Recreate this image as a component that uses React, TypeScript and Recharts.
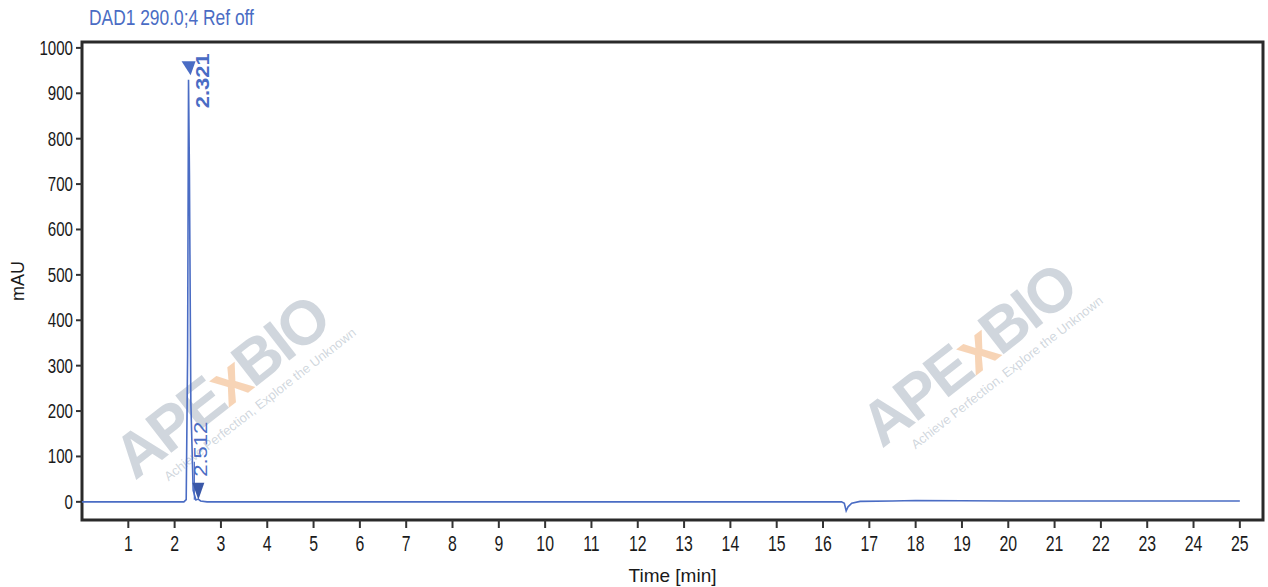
import React from "react";
import { LineChart, Line, XAxis, YAxis, ReferenceArea, ReferenceDot } from "recharts";

// chromatogram trace, DAD1 290 nm
const timeMin = [0, 0.5, 2.2, 2.25, 2.28, 2.3, 2.32, 2.35, 2.4, 2.46, 2.51, 2.56, 2.7, 5, 9, 12, 16.4, 16.46, 16.5, 16.54, 16.62, 16.8, 17.5, 18, 20, 25];
const mAU = [0, 0, 0, 5, 320, 930, 720, 220, 25, 4, 6, 2, 0, 0, 0, 0, 0, -3, -20, -11, -3, 1, 2, 3, 2, 2];

const xTicks = [1, 2, 3, 4, 5, 6, 7, 8, 9, 10, 11, 12, 13, 14, 15, 16, 17, 18, 19, 20, 21, 22, 23, 24, 25];
const yTicks = [0, 100, 200, 300, 400, 500, 600, 700, 800, 900, 1000];

const peaks = [
  { rt: 2.321, label: "2.321" },
  { rt: 2.512, label: "2.512" },
];

const data = timeMin.map((t, i) => ({ t, v: mAU[i] }));

const FONT = "'Liberation Sans', Arial, sans-serif";
const BLUE = "#4a6cc4";
const INK = "#1a1a1a";

// narrow, tall glyphs like the instrument software export
function XTick(p: any) {
  const { x, y, payload } = p;
  return (
    <text transform={`translate(${x},${y + 21}) scale(0.72,1)`} textAnchor="middle" fontSize={22} fill={INK} fontFamily={FONT}>
      {payload.value}
    </text>
  );
}

function YTick(p: any) {
  const { x, y, payload } = p;
  return (
    <text transform={`translate(${x - 1},${y + 7}) scale(0.72,1)`} textAnchor="end" fontSize={21} fill={INK} fontFamily={FONT}>
      {payload.value}
    </text>
  );
}

function Watermark({ left, top }: { left: number; top: number }) {
  return (
    <div
      style={{
        position: "absolute",
        left,
        top,
        transform: "rotate(-38deg)",
        transformOrigin: "left top",
        pointerEvents: "none",
        fontFamily: FONT,
        color: "rgba(150,165,180,0.45)",
        lineHeight: 1,
        whiteSpace: "nowrap",
      }}
    >
      <div style={{ fontSize: 62, fontWeight: 700, letterSpacing: -3 }}>
        APE<span style={{ color: "rgba(240,170,110,0.5)" }}>x</span>BIO
      </div>
      <div style={{ fontSize: 13, marginLeft: 26, marginTop: 0 }}>Achieve Perfection, Explore the Unknown</div>
    </div>
  );
}

// triangle + rotated label at apex
const apexShape = (label: string) => (p: any) => {
  const { cx, cy } = p;
  const tx = cx + 14;
  const ty = cy + 40;
  return (
    <g>
      <polygon points={`${cx - 7},${cy - 7} ${cx + 7},${cy - 7} ${cx + 2},${cy + 7}`} fill={BLUE} />
      <text
        transform={`translate(${tx},${ty}) rotate(-90) scale(1,0.8)`}
        fontSize={22}
        fontWeight={700}
        fill={BLUE}
        fontFamily={FONT}
        dominantBaseline="central"
      >
        {label}
      </text>
    </g>
  );
};

// small peak: label + down arrow to baseline
const arrowShape = (label: string) => (p: any) => {
  const { cx, cy } = p;
  const tx = cx + 2;
  const ty = cy - 25;
  return (
    <g>
      <line x1={cx - 4} y1={cy - 40} x2={cx - 4} y2={cy - 2} stroke={BLUE} strokeWidth={1.2} />
      <polygon points={`${cx - 6},${cy - 19} ${cx + 6},${cy - 19} ${cx},${cy - 2}`} fill="#3a58a8" />
      <text
        transform={`translate(${tx},${ty}) rotate(-90) scale(1,0.8)`}
        fontSize={22}
        fill={BLUE}
        fontFamily={FONT}
        dominantBaseline="central"
      >
        {label}
      </text>
    </g>
  );
};

export default function App() {
  return (
    <div style={{ position: "absolute", left: 0, top: 0, width: 1268, height: 587, background: "#fff", overflow: "hidden" }}>
      <div
        style={{
          position: "absolute",
          left: 89,
          top: 5,
          fontFamily: FONT,
          fontSize: 22,
          color: BLUE,
          transform: "scaleX(0.79)",
          transformOrigin: "left top",
          whiteSpace: "nowrap",
        }}
      >
        DAD1 290.0;4 Ref off
      </div>
      <Watermark left={103} top={440} />
      <Watermark left={850} top={408} />
      <LineChart
        width={1268}
        height={587}
        data={data}
        margin={{ top: 42, right: 5, bottom: 37, left: 10 }}
        style={{ position: "absolute", left: 0, top: 0 }}
      >
        <XAxis
          dataKey="t"
          type="number"
          domain={[0, 25.5]}
          ticks={xTicks}
          interval={0}
          tick={<XTick />}
          tickLine={{ stroke: "#333", strokeWidth: 2 }}
          tickSize={8}
          axisLine={false}
          height={30}
          label={{ value: "Time [min]", position: "insideBottom", offset: -32, style: { fontSize: 19, fill: INK, fontFamily: FONT } }}
        />
        <YAxis
          type="number"
          domain={[-40, 1013]}
          ticks={yTicks}
          interval={0}
          tick={<YTick />}
          tickLine={{ stroke: "#333", strokeWidth: 2 }}
          tickSize={6}
          axisLine={false}
          width={72}
          allowDataOverflow
          label={{ value: "mAU", angle: -90, position: "insideLeft", offset: 8, style: { fontSize: 18, fill: INK, fontFamily: FONT, textAnchor: "middle" } }}
        />
        <ReferenceArea x1={0} x2={25.5} y1={-40} y2={1013} fill="none" stroke="#2a2a2a" strokeWidth={3} ifOverflow="visible" />
        <Line type="linear" dataKey="v" stroke={BLUE} strokeWidth={1.6} dot={false} isAnimationActive={false} />
        <ReferenceDot x={peaks[0].rt - 0.02} y={955} ifOverflow="visible" shape={apexShape(peaks[0].label)} />
        <ReferenceDot x={peaks[1].rt} y={0} ifOverflow="visible" shape={arrowShape(peaks[1].label)} />
      </LineChart>
    </div>
  );
}
